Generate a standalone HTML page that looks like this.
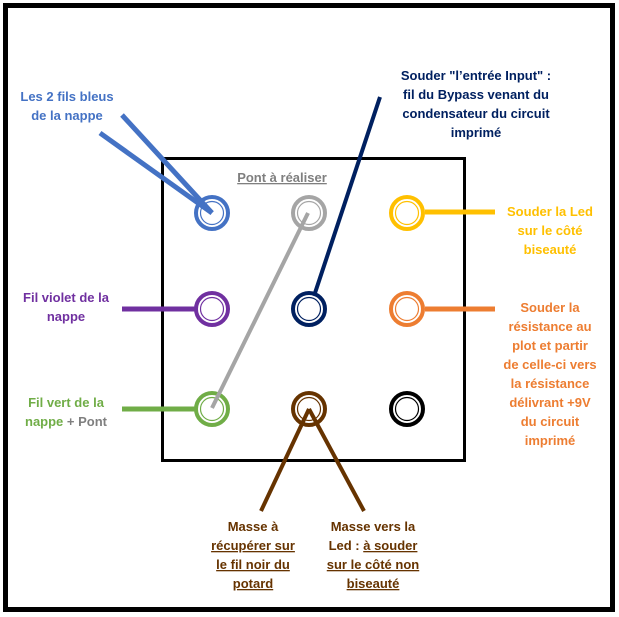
<!DOCTYPE html><html><head><style>body{margin:0;background:#fff}svg{display:block}text{font-family:"Liberation Sans",sans-serif;font-weight:bold;font-size:13px;text-anchor:middle}</style></head><body>
<svg width="619" height="617" viewBox="0 0 619 617" xmlns="http://www.w3.org/2000/svg">
<rect x="5.5" y="5.5" width="607" height="604" fill="#fff" stroke="#000" stroke-width="5"/>
<rect x="162.5" y="158.5" width="302" height="302" fill="none" stroke="#000" stroke-width="3"/>
<g stroke-width="5" stroke-linecap="butt">
<line x1="122" y1="309" x2="195" y2="309" stroke="#7030a0"/>
<line x1="122" y1="409" x2="195" y2="409" stroke="#70ad47"/>
<line x1="425" y1="212" x2="495" y2="212" stroke="#ffc000"/>
<line x1="425" y1="309" x2="495" y2="309" stroke="#ed7d31"/>
</g>
<g fill="#fff">
<g stroke="#4472c4"><circle cx="212" cy="213" r="16" stroke-width="4"/><circle cx="212" cy="213" r="11.5" stroke-width="1.2"/></g>
<g stroke="#a5a5a5"><circle cx="309" cy="213" r="16" stroke-width="4"/><circle cx="309" cy="213" r="11.5" stroke-width="1.2"/></g>
<g stroke="#ffc000"><circle cx="407" cy="213" r="16" stroke-width="4"/><circle cx="407" cy="213" r="11.5" stroke-width="1.2"/></g>
<g stroke="#7030a0"><circle cx="212" cy="309" r="16" stroke-width="4"/><circle cx="212" cy="309" r="11.5" stroke-width="1.2"/></g>
<g stroke="#002060"><circle cx="309" cy="309" r="16" stroke-width="4"/><circle cx="309" cy="309" r="11.5" stroke-width="1.2"/></g>
<g stroke="#ed7d31"><circle cx="407" cy="309" r="16" stroke-width="4"/><circle cx="407" cy="309" r="11.5" stroke-width="1.2"/></g>
<g stroke="#70ad47"><circle cx="212" cy="409" r="16" stroke-width="4"/><circle cx="212" cy="409" r="11.5" stroke-width="1.2"/></g>
<g stroke="#663300"><circle cx="309" cy="409" r="16" stroke-width="4"/><circle cx="309" cy="409" r="11.5" stroke-width="1.2"/></g>
<g stroke="#000"><circle cx="407" cy="409" r="16" stroke-width="4"/><circle cx="407" cy="409" r="11.5" stroke-width="1.2"/></g>
</g>
<line x1="122" y1="115" x2="212" y2="213" stroke="#4472c4" stroke-width="5"/>
<line x1="100" y1="133" x2="212" y2="213" stroke="#4472c4" stroke-width="5"/>
<line x1="308" y1="213" x2="212" y2="408" stroke="#a5a5a5" stroke-width="4"/>
<line x1="380" y1="97" x2="314" y2="296" stroke="#002060" stroke-width="4"/>
<line x1="309" y1="409" x2="261" y2="511" stroke="#663300" stroke-width="4"/>
<line x1="309" y1="409" x2="364" y2="511" stroke="#663300" stroke-width="4"/>
<text x="282" y="182" fill="#7f7f7f" text-decoration="underline">Pont à réaliser</text>
<g fill="#4472c4"><text x="67" y="101">Les 2 fils bleus</text><text x="67" y="120">de la nappe</text></g>
<g fill="#002060"><text x="476" y="80">Souder "l’entrée Input" :</text><text x="476" y="99">fil du Bypass venant du</text><text x="476" y="118">condensateur du circuit</text><text x="476" y="137">imprimé</text></g>
<g fill="#ffc000"><text x="550" y="216">Souder la Led</text><text x="550" y="235">sur le côté</text><text x="550" y="254">biseauté</text></g>
<g fill="#ed7d31"><text x="550" y="312">Souder la</text><text x="550" y="331">résistance au</text><text x="550" y="350">plot et partir</text><text x="550" y="369">de celle-ci vers</text><text x="550" y="388">la résistance</text><text x="550" y="407">délivrant +9V</text><text x="550" y="426">du circuit</text><text x="550" y="445">imprimé</text></g>
<g fill="#7030a0"><text x="66" y="302">Fil violet de la</text><text x="66" y="321">nappe</text></g>
<g fill="#70ad47"><text x="66" y="407">Fil vert de la</text><text x="66" y="426">nappe <tspan fill="#7f7f7f">+ Pont</tspan></text></g>
<g fill="#663300"><text x="253" y="531">Masse à</text><text x="253" y="550" text-decoration="underline">récupérer sur</text><text x="253" y="569" text-decoration="underline">le fil noir du</text><text x="253" y="588" text-decoration="underline">potard</text>
<text x="373" y="531">Masse vers la</text><text x="373" y="550">Led : <tspan text-decoration="underline">à souder</tspan></text><text x="373" y="569" text-decoration="underline">sur le côté non</text><text x="373" y="588" text-decoration="underline">biseauté</text></g>
</svg></body></html>
